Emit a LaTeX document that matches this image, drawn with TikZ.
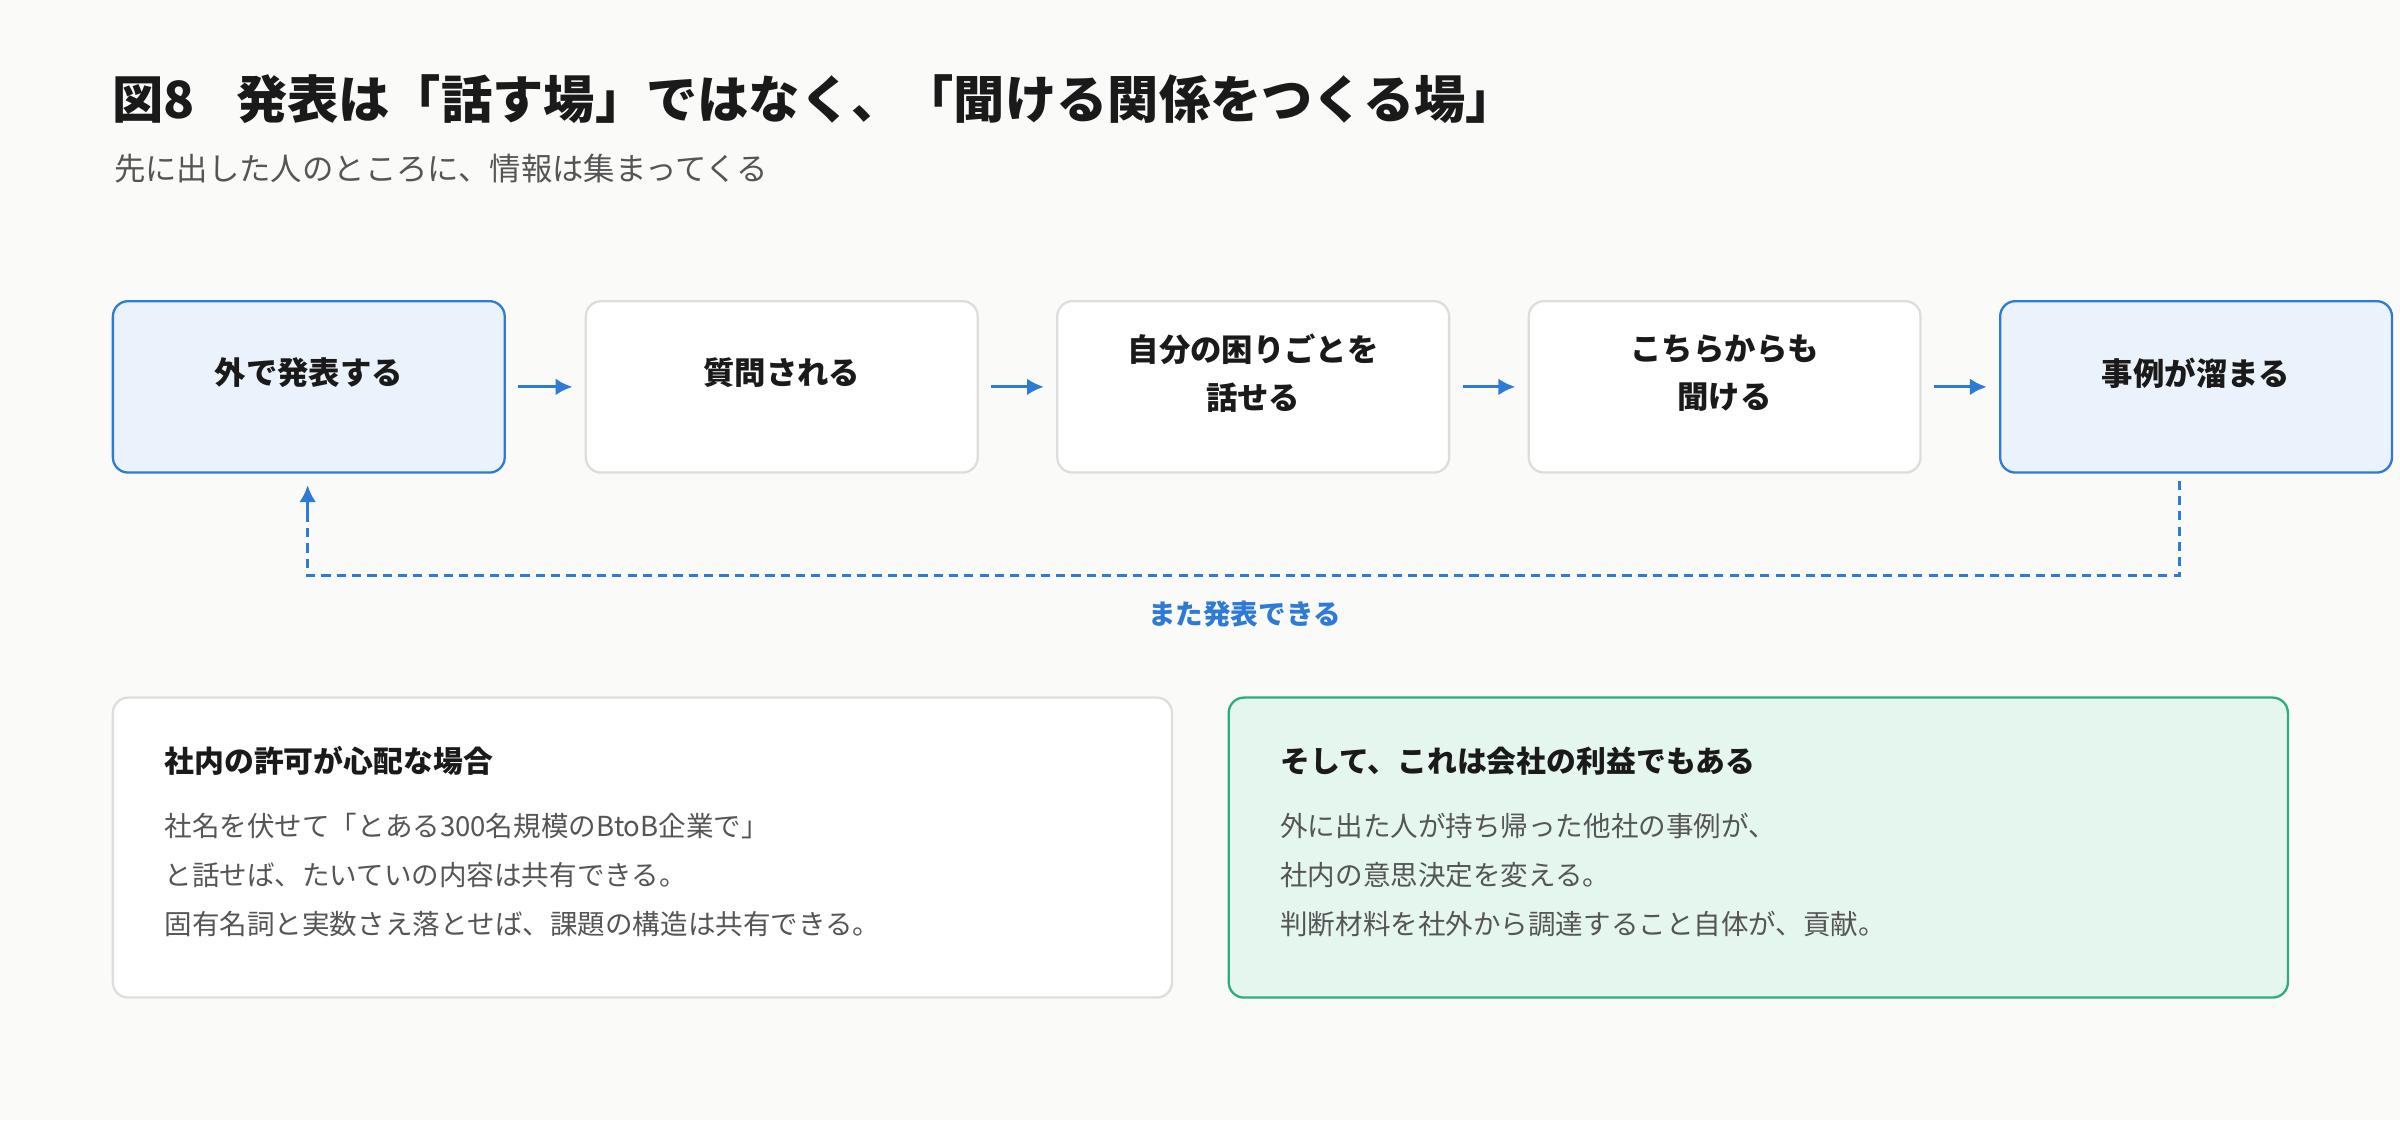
\documentclass[tikz,border=0pt]{standalone}
\usepackage{fontspec}
\setmainfont{Noto Sans CJK JP}
\usetikzlibrary{arrows.meta}
\definecolor{bg}{HTML}{FAFAF8}
\definecolor{blu}{HTML}{2E7BD6}
\definecolor{lblu}{HTML}{EAF2FC}
\definecolor{gbor}{HTML}{DDDDDA}
\definecolor{grn}{HTML}{2BAE7A}
\definecolor{lgrn}{HTML}{E5F6EE}
\definecolor{txt}{HTML}{1A1A1A}
\definecolor{gtxt}{HTML}{555555}
\begin{document}
\begin{tikzpicture}[x=1pt,y=-1pt,
 stepbox/.style={draw=gbor,line width=1.5pt,fill=white,rounded corners=10pt,minimum width=256pt,minimum height=112pt,anchor=north west},
 keybox/.style={stepbox,draw=blu,fill=lblu},
 steptext/.style={align=center,font=\fontsize{20.5}{31}\selectfont\bfseries,text=txt},
 arr/.style={blu,line width=2pt,-{Latex[length=11pt,width=11pt]}},
 card/.style={draw=gbor,line width=1.5pt,fill=white,rounded corners=10pt,minimum width=692pt,minimum height=196pt,anchor=north west},
 head/.style={anchor=west,font=\fontsize{19.5}{22}\selectfont\bfseries,text=txt},
 body/.style={anchor=north west,align=left,font=\fontsize{18}{32}\selectfont,text=gtxt}]
\fill[bg] (0,0) rectangle (1568,732);
\useasboundingbox (0,0) rectangle (1568,732);
\node[anchor=west,font=\fontsize{33.5}{38}\selectfont\bfseries,text=txt] (title) at (70,65) {図8\hspace{0.8em}発表は「話す場」ではなく、「聞ける関係をつくる場」};
\node[anchor=west,font=\fontsize{20.5}{24}\selectfont,text=gtxt] (sub) at (71,110) {先に出した人のところに、情報は集まってくる};
\node[keybox] (b1) at (73,196) {};
\node[stepbox] (b2) at (382,196) {};
\node[stepbox] (b3) at (690,196) {};
\node[stepbox] (b4) at (998,196) {};
\node[keybox] (b5) at (1306,196) {};
\node[steptext] (t1) at ([yshift=9pt]b1.center) {外で発表する};
\node[steptext] (t2) at ([yshift=9pt]b2.center) {質問される};
\node[steptext] (t3) at ([yshift=9pt]b3.center) {自分の困りごとを\\話せる};
\node[steptext] (t4) at ([yshift=9pt]b4.center) {こちらからも\\聞ける};
\node[steptext] (t5) at ([yshift=9pt]b5.center) {事例が溜まる};
\foreach \a/\b in {b1/b2,b2/b3,b3/b4,b4/b5}
  \draw[arr] ([xshift=8pt]\a.east) -- ([xshift=-8pt]\b.west);
\coordinate (s) at (1424,314);
\coordinate (e) at (201,317);
\draw[blu,line width=2pt,dash pattern=on 6pt off 4pt] (s) -- (1424,376) -- (201,376) -- (201,332);
\draw[arr] (201,336) -- (e);
\node[font=\fontsize{18}{20}\selectfont\bfseries,text=blu] (lab) at (813,401) {また発表できる};
\node[card] (c1) at (73,455) {};
\node[card,draw=grn,fill=lgrn] (c2) at (802,455) {};
\node[head] (h1) at (104,497) {社内の許可が心配な場合};
\node[body] (x1) at (104,528) {社名を伏せて「とある300名規模のBtoB企業で」\\と話せば、たいていの内容は共有できる。\\固有名詞と実数さえ落とせば、課題の構造は共有できる。};
\node[head] (h2) at (833,497) {そして、これは会社の利益でもある};
\node[body] (x2) at (833,528) {外に出た人が持ち帰った他社の事例が、\\社内の意思決定を変える。\\判断材料を社外から調達すること自体が、貢献。};
\end{tikzpicture}
\end{document}
